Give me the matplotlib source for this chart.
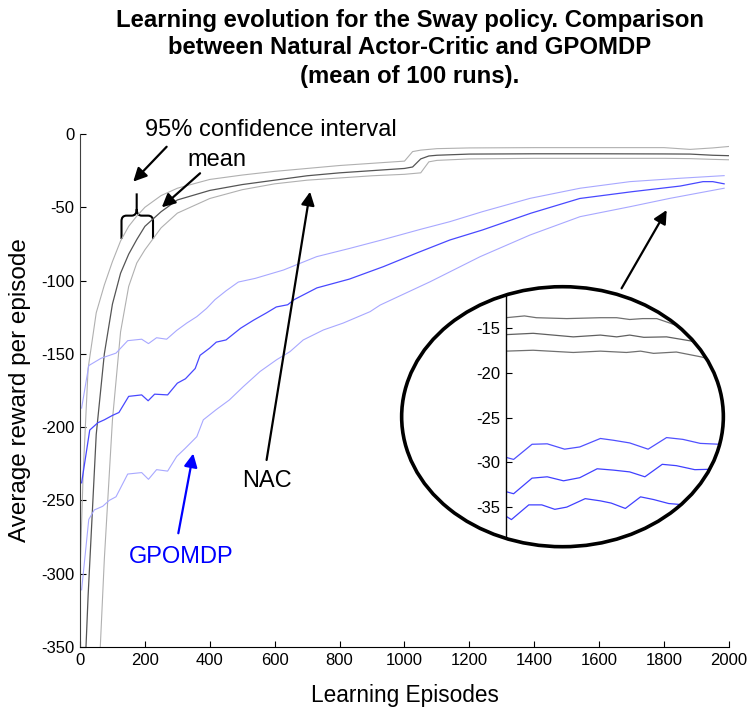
import matplotlib
matplotlib.use("Agg")
import matplotlib.pyplot as plt
from matplotlib.patches import Ellipse, PathPatch
from matplotlib.path import Path

plt.rcParams['font.family'] = ['Liberation Sans', 'DejaVu Sans']
plt.rcParams['axes.unicode_minus'] = False

# ---- NAC (mean and 95% confidence interval) ----
nac_ep = [0, 10, 25, 50, 75, 100, 125, 150, 175, 200, 250, 300, 400, 500, 600, 700,
          800, 900, 1000, 1025, 1050, 1075, 1100, 1200, 1400, 1600, 1800, 1880, 1950, 2000]
nac_mean = [-470, -395, -315, -205, -150, -116, -95, -82, -72, -63, -53, -45, -38.5, -34.5,
            -31.5, -28.5, -26.5, -25, -23.5, -22.5, -17, -15, -14.5, -13.7, -13.5, -13.5,
            -13.6, -13.7, -14.5, -14.8]
nac_upper = [-300, -230, -160, -122, -103, -87, -73, -63, -56, -50, -42, -37, -31, -28,
             -25.5, -23.5, -21.5, -20, -18.5, -12, -11, -10.5, -10, -9.5, -9.3, -9.3,
             -9.3, -10.5, -9.5, -8.5]
nac_lower = [-620, -590, -520, -410, -290, -195, -135, -104, -88, -79, -64, -54, -44, -38,
             -34, -31.5, -30, -28.5, -27.5, -27, -26.5, -19, -18, -17, -16.6, -16.6,
             -16.6, -16.8, -17.3, -17.6]

# ---- GPOMDP ----
gp_mean_ep = [5, 30, 55, 75, 100, 120, 150, 190, 210, 230, 270, 300, 325, 355, 370, 400,
              420, 450, 495, 535, 575, 605, 640, 660, 730, 830, 935, 1040, 1140, 1240,
              1390, 1540, 1700, 1850, 1920, 1950, 1985]
gp_mean = [-238, -202, -197, -195, -192, -190, -179, -178, -182, -177.5, -178, -170, -167,
           -160, -151, -146, -142, -140.5, -132.5, -127, -122, -118, -116.5, -113, -105,
           -99, -90.5, -81, -72.3, -65.5, -54, -44, -39.4, -35.5, -32.5, -32.5, -34]
gp_upper_ep = [5, 27, 65, 111, 147, 190, 211, 236, 267, 298, 329, 360, 390, 416, 450, 488,
               540, 627, 729, 832, 930, 1050, 1140, 1240, 1387, 1541, 1695, 1849, 1985]
gp_upper = [-187, -158, -153, -149.5, -141, -140, -143, -139, -140, -134, -129, -124.6,
            -119, -113, -107, -101, -98.5, -92.8, -83.7, -78, -72.3, -65, -59.8, -53,
            -43.9, -37, -32.5, -30.2, -28.4]
gp_lower_ep = [5, 27, 44, 70, 90, 111, 147, 190, 211, 236, 270, 298, 324, 360, 380, 420,
               460, 503, 555, 606, 647, 688, 750, 811, 894, 925, 1079, 1233, 1387, 1541,
               1695, 1818, 1985]
gp_lower = [-311, -263, -256.5, -254, -250, -247.5, -232, -231, -235.6, -229, -230, -220,
            -214.5, -206.5, -195, -188, -181.5, -172.4, -162, -154, -148.5, -140.5, -133.7,
            -129, -121.2, -116.7, -100.8, -83.7, -68.9, -56.4, -49.6, -43.9, -37]

# ---- zoomed inset (end of learning) ----
ins_nac_up_ep = [1800, 1817, 1828, 1856, 1887, 1902, 1914, 1926, 1939, 1951, 1975]
ins_nac_up = [-13.8, -13.6, -13.8, -13.9, -13.8, -13.8, -14.0, -13.9, -13.9, -14.4, -15.5]
ins_nac_mid_ep = [1800, 1825, 1862, 1887, 1902, 1914, 1927, 1948, 1970, 1990]
ins_nac_mid = [-15.7, -15.55, -15.95, -15.75, -15.95, -15.75, -16.0, -15.95, -16.4, -17.3]
ins_nac_low_ep = [1800, 1825, 1862, 1887, 1911, 1924, 1936, 1957, 1980, 1997]
ins_nac_low = [-17.55, -17.45, -17.7, -17.55, -17.7, -17.55, -17.8, -17.65, -18.2, -18.8]
ins_gp_up_ep = [1801, 1807, 1824, 1838, 1854, 1868, 1887, 1899, 1914, 1931, 1948, 1963, 1979, 1997, 2005]
ins_gp_up = [-29.5, -29.7, -28.0, -27.95, -28.55, -28.3, -27.35, -27.55, -27.85, -28.55,
             -27.25, -27.45, -27.9, -28.0, -28.0]
ins_gp_mid_ep = [1801, 1807, 1824, 1838, 1853, 1868, 1884, 1899, 1914, 1928, 1944, 1957, 1974, 1990, 2000]
ins_gp_mid = [-33.35, -33.55, -31.8, -31.65, -32.1, -31.75, -30.75, -30.9, -31.1, -31.65,
              -30.25, -30.4, -30.85, -30.8, -30.8]
ins_gp_low_ep = [1801, 1805, 1821, 1833, 1845, 1856, 1873, 1887, 1897, 1910, 1924, 1936, 1950, 1960, 1980]
ins_gp_low = [-36.15, -36.45, -34.8, -34.8, -35.3, -35.05, -34.1, -34.35, -34.6, -35.2,
              -33.9, -34.2, -34.65, -34.75, -35.0]
ins_yticks = [-35, -30, -25, -20, -15]

x_ticks = list(range(0, 2001, 200))
y_ticks = list(range(-350, 1, 50))

fig = plt.figure(figsize=(7.49, 7.2), dpi=100)
ax = fig.add_axes([80 / 749, 1 - 647 / 720, 649 / 749, 513 / 720])

ax.plot(nac_ep, nac_upper, color='#b0b0b0', lw=0.8)
ax.plot(nac_ep, nac_lower, color='#b0b0b0', lw=0.8)
ax.plot(nac_ep, nac_mean, color='#555555', lw=0.9)
ax.plot(gp_upper_ep, gp_upper, color='#a8a8ff', lw=0.8)
ax.plot(gp_lower_ep, gp_lower, color='#a8a8ff', lw=0.8)
ax.plot(gp_mean_ep, gp_mean, color='#4848ff', lw=0.9)

ax.set_xlim(0, 2000)
ax.set_ylim(-350, 0)
ax.set_xticks(x_ticks)
ax.set_yticks(y_ticks)
ax.tick_params(direction='in', length=4, labelsize=12, pad=4)
for s in ['top', 'right']:
    ax.spines[s].set_visible(False)
ax.spines['left'].set_color('0.25')
ax.set_xlabel('Learning Episodes', fontsize=16.3, labelpad=12)
ax.set_ylabel('Average reward per episode', fontsize=17.5, labelpad=7)

# title
title_lines = ['Learning evolution for the Sway policy. Comparison',
               'between Natural Actor-Critic and GPOMDP',
               '(mean of 100 runs).']
for i, line in enumerate(title_lines):
    fig.text(410 / 749, 1 - (20 + 28 * i) / 720, line, ha='center', va='center',
             fontsize=17.2, fontweight='bold')

# annotations
arrow = dict(arrowstyle='-|>', color='k', lw=1.6, mutation_scale=20, shrinkA=0, shrinkB=0)
ax.text(587, 2.7, '95% confidence interval', fontsize=17, ha='center', va='center')
ax.text(421, -17.7, 'mean', fontsize=17, ha='center', va='center')
ax.annotate('', xy=(164, -32.5), xytext=(267, -8.7), arrowprops=arrow, annotation_clip=False)
ax.annotate('', xy=(252, -50), xytext=(370, -26.8), arrowprops=arrow)
ax.annotate('', xy=(709, -39.4), xytext=(575, -222.4), arrowprops=arrow)
ax.text(575, -237, 'NAC', fontsize=17, ha='center', va='center')
ax.annotate('', xy=(349, -218), xytext=(303, -272.4),
            arrowprops=dict(arrow, color='#0000ff'))
ax.text(313, -288.4, 'GPOMDP', fontsize=17, ha='center', va='center', color='#0000ff')
ax.annotate('', xy=(1808, -51.9), xytext=(1669, -105.3), arrowprops=arrow)

# curly brace over the confidence band
L, C, R = 127.9, 174.7, 225.0
yb, yc, yh, yt, ytip = -71.6, -59.4, -55.7, -51.2, -40.5
verts = [(L, yb), (L, yc), (L, yh), (L + 15.4, yh), (C - 15.4, yh), (C, yh), (C, yt), (C, ytip),
         (C, yt), (C, yh), (C + 15.4, yh), (R - 15.4, yh), (R, yh), (R, yc), (R, yb)]
codes = [Path.MOVETO, Path.LINETO, Path.CURVE3, Path.CURVE3, Path.LINETO, Path.CURVE3,
         Path.CURVE3, Path.LINETO, Path.MOVETO, Path.CURVE3, Path.CURVE3, Path.LINETO,
         Path.CURVE3, Path.CURVE3, Path.LINETO]
ax.add_patch(PathPatch(Path(verts, codes), facecolor='none', edgecolor='k', lw=1.5,
                       clip_on=False))

# ellipse with zoomed view
ell = Ellipse((562.5 / 749, 1 - 416.7 / 720), 321.7 / 749, 260 / 720,
              transform=fig.transFigure, facecolor='none', edgecolor='k', lw=2.6, zorder=5)
fig.add_artist(ell)

axi = fig.add_axes([506 / 749, 1 - 538.3 / 720, 217 / 749, 244.3 / 720])
axi.patch.set_visible(False)
lines = []
lines += axi.plot(ins_nac_up_ep, ins_nac_up, color='#707070', lw=0.9)
lines += axi.plot(ins_nac_mid_ep, ins_nac_mid, color='#606060', lw=0.9)
lines += axi.plot(ins_nac_low_ep, ins_nac_low, color='#707070', lw=0.9)
lines += axi.plot(ins_gp_up_ep, ins_gp_up, color='#5050ff', lw=0.9)
lines += axi.plot(ins_gp_mid_ep, ins_gp_mid, color='#4040ff', lw=0.9)
lines += axi.plot(ins_gp_low_ep, ins_gp_low, color='#4040ff', lw=0.9)
for ln in lines:
    ln.set_clip_path(ell)
axi.set_xlim(1800, 2000)
axi.set_ylim(-38.55, -11.14)
axi.set_yticks(ins_yticks)
axi.set_xticks([])
axi.tick_params(axis='y', direction='in', length=4, labelsize=12, pad=4)
for s in ['top', 'right', 'bottom']:
    axi.spines[s].set_visible(False)
axi.spines['left'].set_linewidth(1.0)

fig.savefig('out.png', dpi=100)
